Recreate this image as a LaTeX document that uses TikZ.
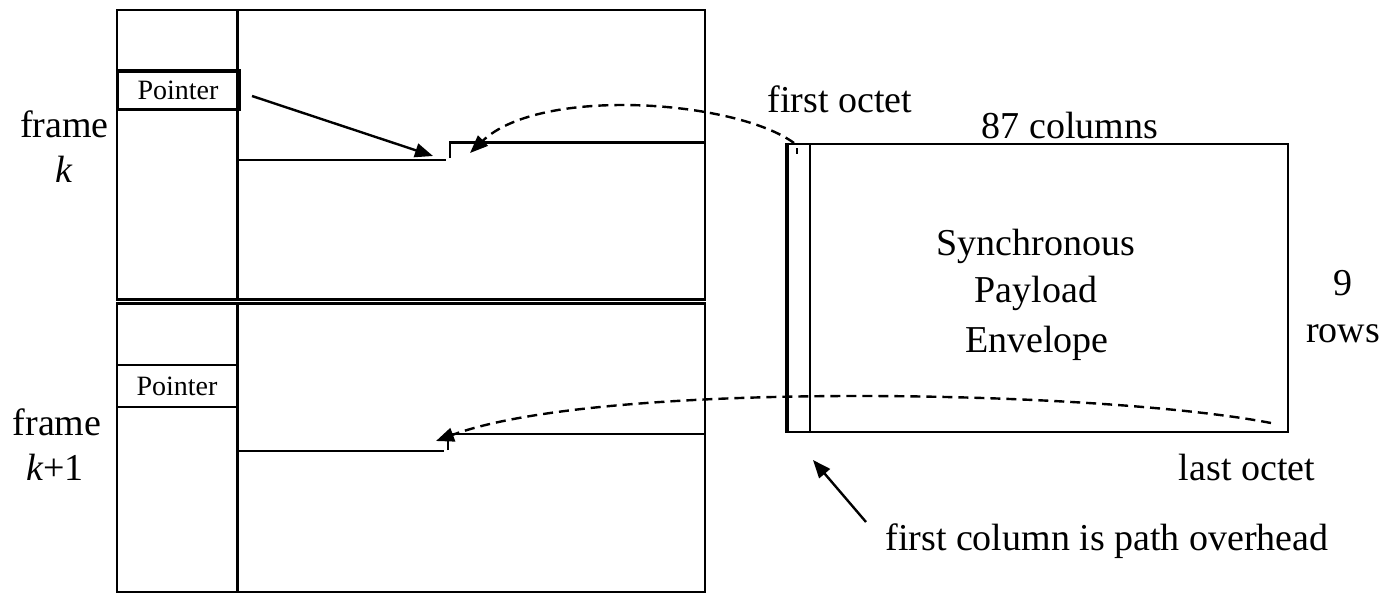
\documentclass[tikz,border=0pt]{standalone}
\usepackage{fontspec}
\setmainfont{Liberation Serif}
\usetikzlibrary{arrows.meta}
\begin{document}
\begin{tikzpicture}[x=1pt,y=-1pt,
  frameline/.style={line width=2.6pt},
  lbl/.style={font=\fontsize{38}{45}\selectfont, inner sep=0pt, anchor=base},
  ptrbox/.style={draw, line width=3pt, inner sep=0pt,
    font=\fontsize{28}{32}\selectfont},
  solidarrow/.style={line width=2.4pt, -{Triangle[length=18pt,width=14pt]}},
  dashlink/.style={line width=2.4pt, dash pattern=on 10pt off 6pt,
    -{Triangle[length=18pt,width=14pt]}}]
\useasboundingbox (0,0) rectangle (1386,594);

% the two consecutive frames
\draw[frameline] (117,10) rectangle (705,299.5);
\draw[frameline] (117,303.5) rectangle (705,592);
\draw[frameline] (237.5,10) -- (237.5,299.5);
\draw[frameline] (237.5,303.5) -- (237.5,592);

% pointer fields
\node[ptrbox, minimum width=122pt, minimum height=38pt] (p1) at (178,90) {Pointer};
\node[ptrbox, line width=2.6pt, minimum width=120pt, minimum height=42pt] (p2) at (177,386) {Pointer};

% payload boundaries inside frame k and frame k+1
\draw[frameline] (239,160) -- (446,160);
\draw[frameline] (450,158) |- (705,142.5);
\draw[frameline] (237.5,451) -- (444,451);
\draw[frameline] (448,450) |- (705,434);

% synchronous payload envelope
\node[draw, line width=2.6pt, minimum width=500pt, minimum height=288pt, inner sep=0pt]
  (spe) at (1038,288) {};
\draw[line width=4pt] (spe.north west) -- (spe.south west);
\draw[frameline] (810,144) -- (810,432);
\draw[line width=1.8pt] (797,148) -- (797,154);

% connector end points
\coordinate (a1) at (252,96);
\coordinate (t1) at (433,156);
\coordinate (fo) at (794,143);
\coordinate (t2) at (470,153);
\coordinate (lo) at (1271,423);
\coordinate (t3) at (436,441);
\coordinate (fc) at (866,522);
\coordinate (oh) at (813,460);

% connectors
\draw[solidarrow] (a1) -- (t1);
\draw[dashlink] (fo) .. controls (735,100) and (540,86) .. (t2);
\draw[dashlink] (lo) .. controls (1100,390) and (600,380) .. (t3);
\draw[solidarrow] (fc) -- (oh);

% labels
\node[lbl] (fk1) at (64.5,137) {frame};
\node[lbl] (fk2) at (64,182) {\itshape k};
\node[lbl] (fn1) at (57,435) {frame};
\node[lbl] (fn2) at (55,480) {{\itshape k}+1};
\node[lbl] (fo-l) at (840,112) {first octet};
\node[lbl] (cols) at (1070,138) {87 columns};
\node[lbl] (sp1) at (1036,255) {Synchronous};
\node[lbl] (sp2) at (1036,302) {Payload};
\node[lbl] (sp3) at (1037,352) {Envelope};
\node[lbl] (rw1) at (1343,295) {9};
\node[lbl] (rw2) at (1343,342) {rows};
\node[lbl] (lo-l) at (1247,480) {last octet};
\node[lbl] (oh-l) at (1107,550) {first column is path overhead};
\end{tikzpicture}
\end{document}
